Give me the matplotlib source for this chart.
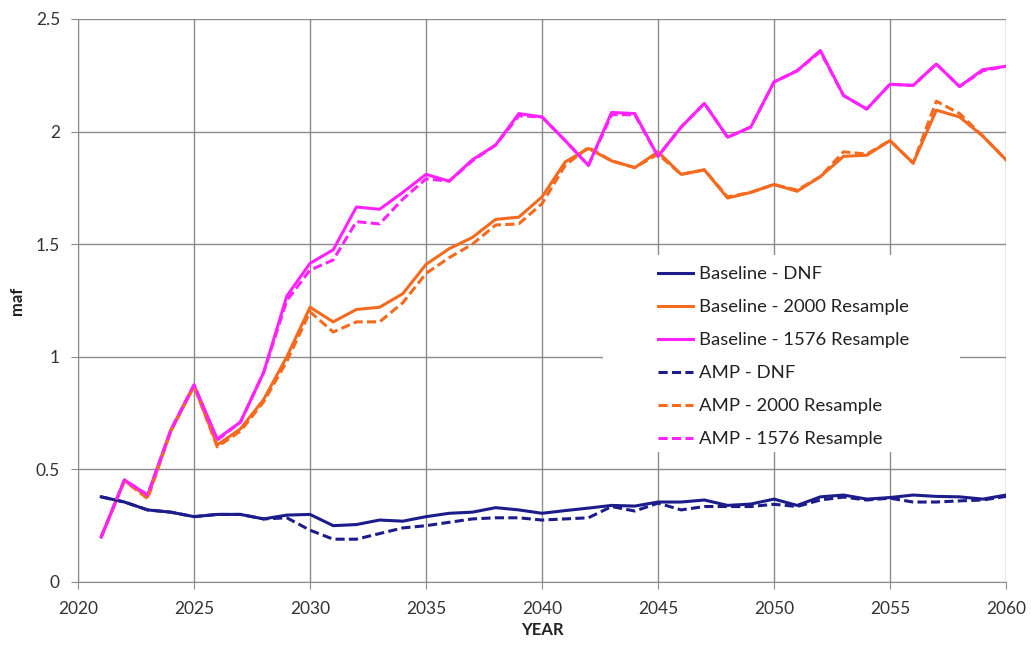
import matplotlib.pyplot as plt
from matplotlib.patches import Rectangle

years = list(range(2021, 2061))

base_dnf = [0.378, 0.355, 0.32, 0.31, 0.29, 0.30, 0.30, 0.28, 0.297, 0.30,
            0.25, 0.255, 0.275, 0.27, 0.29, 0.305, 0.31, 0.33, 0.32, 0.305,
            0.317, 0.328, 0.34, 0.337, 0.355, 0.355, 0.364, 0.34, 0.346, 0.368,
            0.34, 0.378, 0.386, 0.368, 0.375, 0.386, 0.38, 0.378, 0.368, 0.386]
base_2000 = [0.20, 0.45, 0.378, 0.67, 0.87, 0.608, 0.68, 0.81, 1.0, 1.22,
             1.155, 1.21, 1.22, 1.28, 1.41, 1.48, 1.53, 1.61, 1.62, 1.71,
             1.865, 1.925, 1.87, 1.84, 1.91, 1.81, 1.83, 1.705, 1.73, 1.765,
             1.735, 1.80, 1.89, 1.895, 1.96, 1.86, 2.095, 2.065, 1.98, 1.875]
base_1576 = [0.20, 0.453, 0.386, 0.675, 0.875, 0.635, 0.71, 0.93, 1.27, 1.415,
             1.475, 1.665, 1.655, 1.73, 1.81, 1.78, 1.875, 1.94, 2.08, 2.065,
             1.96, 1.85, 2.085, 2.08, 1.89, 2.02, 2.125, 1.975, 2.02, 2.22,
             2.27, 2.36, 2.16, 2.10, 2.21, 2.205, 2.30, 2.20, 2.275, 2.29]
amp_dnf = [0.378, 0.355, 0.32, 0.31, 0.29, 0.30, 0.30, 0.28, 0.285, 0.23,
           0.19, 0.19, 0.215, 0.24, 0.25, 0.265, 0.28, 0.285, 0.285, 0.275,
           0.28, 0.285, 0.335, 0.315, 0.35, 0.32, 0.335, 0.335, 0.335, 0.345,
           0.335, 0.364, 0.377, 0.364, 0.372, 0.355, 0.355, 0.36, 0.364, 0.38]
amp_2000 = [0.20, 0.45, 0.37, 0.67, 0.87, 0.60, 0.67, 0.80, 0.98, 1.20,
            1.11, 1.155, 1.155, 1.24, 1.37, 1.44, 1.50, 1.585, 1.59, 1.68,
            1.85, 1.93, 1.87, 1.84, 1.90, 1.81, 1.83, 1.71, 1.73, 1.765,
            1.74, 1.80, 1.91, 1.90, 1.96, 1.86, 2.135, 2.08, 1.98, 1.875]
amp_1576 = [0.20, 0.453, 0.386, 0.675, 0.875, 0.63, 0.71, 0.93, 1.25, 1.385,
            1.43, 1.60, 1.59, 1.70, 1.79, 1.78, 1.87, 1.94, 2.07, 2.065,
            1.96, 1.85, 2.075, 2.075, 1.89, 2.02, 2.125, 1.975, 2.02, 2.22,
            2.27, 2.355, 2.16, 2.10, 2.21, 2.205, 2.30, 2.20, 2.27, 2.29]

labels = ["Baseline - DNF", "Baseline - 2000 Resample", "Baseline - 1576 Resample",
          "AMP - DNF", "AMP - 2000 Resample", "AMP - 1576 Resample"]

navy = "#1c1c8a"
orange = "#f46a1f"
magenta = "#ff22ff"

plt.rcParams['font.family'] = ['Lato', 'DejaVu Sans']

fig = plt.figure(figsize=(10.31, 6.52), dpi=100)
ax = fig.add_axes([0.0757, 0.1074, 0.9, 0.8635])

lw = 2.2
dash = (0, (3, 1.4))
ax.plot(years, base_dnf, color=navy, lw=lw, label=labels[0])
ax.plot(years, base_2000, color=orange, lw=lw, label=labels[1])
ax.plot(years, base_1576, color=magenta, lw=lw, label=labels[2])
ax.plot(years, amp_dnf, color=navy, lw=lw, ls=dash, label=labels[3])
ax.plot(years, amp_2000, color=orange, lw=lw, ls=dash, label=labels[4])
ax.plot(years, amp_1576, color=magenta, lw=lw, ls=dash, label=labels[5])

ax.set_xlim(2020, 2060)
ax.set_ylim(0, 2.5)
ax.set_xticks(range(2020, 2061, 5))
ax.set_yticks([0, 0.5, 1, 1.5, 2, 2.5])
ax.set_yticklabels(["0", "0.5", "1", "1.5", "2", "2.5"])
ax.grid(True, color="#8c8c8c", lw=1, zorder=0)
ax.set_axisbelow(True)
for s in ax.spines.values():
    s.set_visible(False)
ax.spines['left'].set_visible(True)
ax.spines['bottom'].set_visible(True)
ax.spines['left'].set_color("#8c8c8c")
ax.spines['bottom'].set_color("#8c8c8c")
ax.tick_params(axis='both', colors="#8c8c8c", labelcolor="#333333", labelsize=12.5, length=5)
ax.tick_params(axis='y', pad=8)
ax.tick_params(axis='x', pad=9)

ax.set_xlabel("YEAR", fontsize=12, fontweight='bold', color="#222222", labelpad=3)
ax.set_ylabel("maf", fontsize=12, fontweight='bold', color="#222222", labelpad=8)

# white legend area (wider than the entries, hides the gridlines)
ax.add_patch(Rectangle((0.566, 0.231), 0.384, 0.35, transform=ax.transAxes,
                       facecolor='white', edgecolor='none', zorder=1))

leg = ax.legend(loc='upper left', bbox_to_anchor=(0.603, 0.597), frameon=False,
                fontsize=13.3, handlelength=1.9, handletextpad=0.3,
                labelspacing=0.92, borderpad=0.6)
for t in leg.get_texts():
    t.set_color("#222222")

fig.savefig("out.png", dpi=100)
